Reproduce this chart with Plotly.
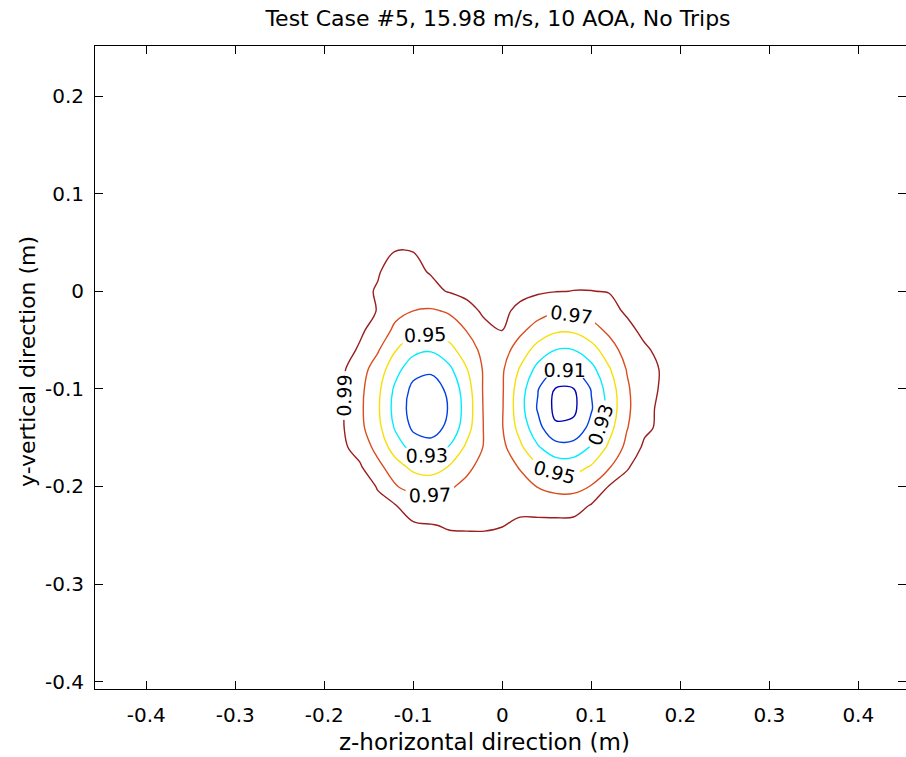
import plotly.graph_objects as go

# ---- data (wake survey, normalised pressure) ----
x_vals = [-0.20, -0.18, -0.16, -0.14, -0.12, -0.10, -0.08, -0.06, -0.04, -0.02, 0.00,
          0.02, 0.04, 0.06, 0.08, 0.10, 0.12, 0.14, 0.16, 0.18, 0.20, 0.22]
y_vals = [0.06, 0.04, 0.02, 0.00, -0.02, -0.04, -0.06, -0.08, -0.10, -0.12, -0.14,
          -0.16, -0.18, -0.20, -0.22, -0.24, -0.26, -0.28]
z_rows = [
    [1.0, 1.0, 1.0, 0.999, 0.997, 0.997, 0.996, 0.997, 0.998, 1.0, 1.0, 1.0, 1.0, 1.0, 1.0, 1.0, 1.0, 1.0, 1.0, 1.0, 1.0, 1.0],
    [1.0, 1.0, 0.998, 0.994, 0.9895, 0.990, 0.994, 0.996, 0.997, 0.998, 1.0, 0.999, 0.998, 0.998, 0.998, 0.998, 0.999, 1.0, 1.0, 1.0, 1.0, 1.0],
    [1.0, 0.999, 0.996, 0.991, 0.985, 0.987, 0.991, 0.993, 0.995, 0.996, 0.998, 0.997, 0.995, 0.994, 0.994, 0.995, 0.997, 0.999, 1.0, 1.0, 1.0, 1.0],
    [1.0, 0.997, 0.993, 0.989, 0.984, 0.980, 0.986, 0.991, 0.993, 0.995, 0.996, 0.995, 0.9925, 0.9905, 0.9898, 0.9898, 0.9905, 0.993, 0.998, 1.0, 1.0, 1.0],
    [0.999, 0.995, 0.995, 0.9895, 0.977, 0.970, 0.968, 0.972, 0.986, 0.992, 0.994, 0.9856, 0.9775, 0.9727, 0.9727, 0.9775, 0.9856, 0.992, 0.996, 0.999, 1.0, 1.0],
    [0.997, 0.993, 0.992, 0.985, 0.9645, 0.955, 0.952, 0.960, 0.9705, 0.987, 0.9905, 0.974, 0.962, 0.953, 0.953, 0.962, 0.974, 0.986, 0.9935, 0.9976, 1.0, 1.0],
    [0.997, 0.995, 0.9885, 0.972, 0.951, 0.936, 0.932, 0.943, 0.961, 0.9756, 0.978, 0.961, 0.942, 0.930, 0.930, 0.942, 0.961, 0.978, 0.988, 0.994, 0.9997, 1.0],
    [0.9955, 0.993, 0.978, 0.961, 0.937, 0.917, 0.913, 0.925, 0.949, 0.973, 0.9725, 0.948, 0.9235, 0.908, 0.908, 0.9235, 0.948, 0.971, 0.988, 0.9905, 0.995, 1.0],
    [0.995, 0.992, 0.975, 0.955, 0.926, 0.905, 0.902, 0.9135, 0.941, 0.9735, 0.972, 0.939, 0.911, 0.889, 0.8895, 0.911, 0.939, 0.967, 0.9855, 0.9915, 0.999, 1.0],
    [0.9945, 0.992, 0.974, 0.953, 0.9225, 0.902, 0.898, 0.911, 0.938, 0.973, 0.9715, 0.937, 0.908, 0.885, 0.886, 0.908, 0.937, 0.966, 0.985, 0.994, 0.999, 1.0],
    [0.995, 0.992, 0.975, 0.956, 0.9275, 0.9066, 0.9027, 0.914, 0.942, 0.972, 0.971, 0.943, 0.9165, 0.893, 0.895, 0.9165, 0.943, 0.969, 0.986, 0.9945, 0.999, 1.0],
    [0.996, 0.993, 0.984, 0.963, 0.941, 0.922, 0.917, 0.931, 0.954, 0.9717, 0.975, 0.954, 0.932, 0.918, 0.918, 0.932, 0.954, 0.975, 0.994, 0.995, 0.9995, 1.0],
    [0.997, 0.995, 0.992, 0.976, 0.958, 0.945, 0.941, 0.951, 0.965, 0.978, 0.9827, 0.968, 0.952, 0.9415, 0.9415, 0.952, 0.968, 0.989, 0.995, 0.9965, 1.0, 1.0],
    [0.998, 0.994, 0.994, 0.9895, 0.971, 0.964, 0.9626, 0.967, 0.9755, 0.985, 0.9896, 0.980, 0.969, 0.964, 0.964, 0.971, 0.991, 0.994, 0.994, 0.998, 1.0, 1.0],
    [1.0, 0.997, 0.9925, 0.992, 0.991, 0.982, 0.9766, 0.979, 0.985, 0.984, 0.985, 0.986, 0.9844, 0.981, 0.981, 0.992, 0.995, 0.996, 0.998, 1.0, 1.0, 1.0],
    [1.0, 1.0, 0.996, 0.995, 0.994, 0.992, 0.991, 0.9885, 0.988, 0.988, 0.9895, 0.993, 0.994, 0.996, 0.997, 0.998, 0.999, 1.0, 1.0, 1.0, 1.0, 1.0],
    [1.0, 1.0, 1.0, 0.999, 0.998, 0.997, 0.996, 0.995, 0.995, 0.995, 0.996, 0.997, 0.998, 0.999, 1.0, 1.0, 1.0, 1.0, 1.0, 1.0, 1.0, 1.0],
    [1.0, 1.0, 1.0, 1.0, 1.0, 1.0, 1.0, 1.0, 1.0, 1.0, 1.0, 1.0, 1.0, 1.0, 1.0, 1.0, 1.0, 1.0, 1.0, 1.0, 1.0, 1.0],
]

x_tick_vals = [-0.4, -0.3, -0.2, -0.1, 0.0, 0.1, 0.2, 0.3, 0.4]
x_tick_text = ["-0.4", "-0.3", "-0.2", "-0.1", "0", "0.1", "0.2", "0.3", "0.4"]
y_tick_vals = [-0.4, -0.3, -0.2, -0.1, 0.0, 0.1, 0.2]
y_tick_text = ["-0.4", "-0.3", "-0.2", "-0.1", "0", "0.1", "0.2"]

# line colours for levels 0.89, 0.91, 0.93, 0.95, 0.97, 0.99
level_colors = ["#0000b4", "#0064ff", "#00ffff", "#f5f000", "#ff6a20", "#9a1e1e"]

FONT = "DejaVu Sans"

y_asc = y_vals[::-1]
z_asc = z_rows[::-1]

n = len(level_colors)
cscale = [[i / (n - 1), c] for i, c in enumerate(level_colors)]

fig = go.Figure()
fig.add_trace(go.Contour(
    x=x_vals, y=y_asc, z=z_asc,
    # plotly colours a line at (level + size/2); shift the colour range accordingly
    zmin=0.90, zmax=1.00, zauto=False,
    colorscale=cscale, showscale=False,
    contours=dict(start=0.89, end=0.995, size=0.02, coloring="lines",
                  showlabels=True, labelformat=".2f",
                  labelfont=dict(family=FONT, size=19, color="black")),
    line=dict(width=1.4),
    hoverinfo="skip",
))

W, H = 906, 757
ml, mr, mt, mb = 95, 0, 46, 68
pw = W - ml - mr
ph = H - mt - mb

axis_common = dict(showgrid=False, zeroline=False, showline=True, linecolor="black",
                   linewidth=1, mirror="ticks", ticks="inside", ticklen=8,
                   tickcolor="black", tickwidth=1,
                   tickfont=dict(family=FONT, size=20, color="black"))

fig.update_layout(
    width=W, height=H,
    margin=dict(l=ml, r=mr, t=mt, b=mb, pad=0),
    paper_bgcolor="white", plot_bgcolor="white",
    showlegend=False,
    title=dict(text="Test Case #5, 15.98 m/s, 10 AOA, No Trips",
               font=dict(family=FONT, size=22, color="black"),
               x=(498 - ml) / pw, xref="paper", xanchor="center",
               y=1 - 18 / H, yref="container", yanchor="middle"),
    xaxis=dict(range=[-0.4576, 0.4536], tickvals=x_tick_vals, ticktext=x_tick_text,
               ticklabelstandoff=8, **axis_common),
    yaxis=dict(range=[-0.4075, 0.2513], tickvals=y_tick_vals, ticktext=y_tick_text,
               ticklabelstandoff=6, **axis_common),
    annotations=[
        dict(text="z-horizontal direction (m)", xref="paper", yref="paper",
             x=(484 - ml) / pw, y=-(742 - (H - mb)) / ph,
             xanchor="center", yanchor="middle", showarrow=False,
             font=dict(family=FONT, size=23, color="black")),
        dict(text="y-vertical direction (m)", xref="paper", yref="paper",
             x=(27 - ml) / pw, y=0.5 - (362 - (mt + ph / 2)) / ph,
             xanchor="center", yanchor="middle", textangle=-90, showarrow=False,
             font=dict(family=FONT, size=22, color="black")),
    ],
)

fig.write_html("out.html")
